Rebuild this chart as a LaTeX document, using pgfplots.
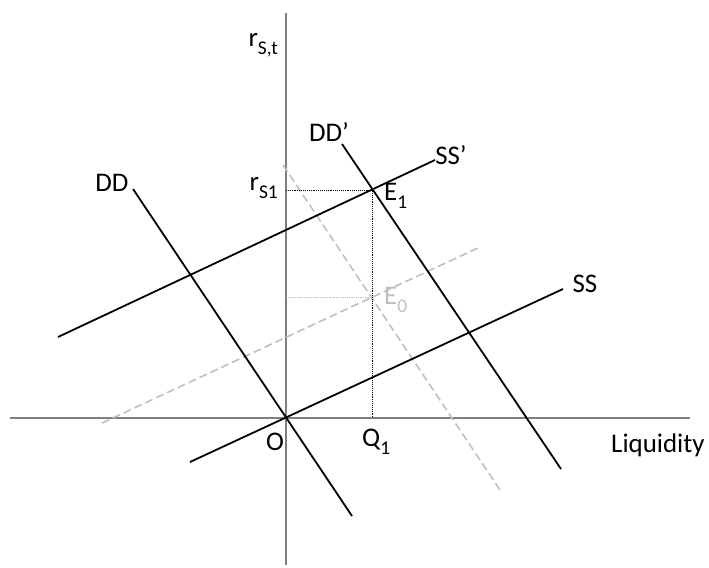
\documentclass[border=0pt]{standalone}
\usepackage{pgfplots}
\pgfplotsset{compat=1.18}
\usepackage{fontspec}
\setmainfont{Carlito}
\definecolor{axgray}{HTML}{7F7F7F}
\definecolor{lgray}{HTML}{BFBFBF}
\newcommand\sub[1]{\raisebox{-0.3em}{\fontsize{19.5}{20}\selectfont #1}}
\tikzset{lab/.style={font=\fontsize{27}{30}\selectfont, inner sep=0pt}}
\begin{document}
\begin{tikzpicture}
\begin{axis}[
  scale only axis, width=709bp, height=568bp,
  xmin=0, xmax=709, ymin=0, ymax=568, y dir=reverse,
  hide axis, clip=false,
]
\path[draw=none] (axis cs:0,0) rectangle (axis cs:709,568);
% axes
\addplot[axgray, line width=1.4pt] coordinates {(286,13) (286,565)};
\addplot[axgray, line width=1.4pt] coordinates {(10,418) (690,418)};
% gray dashed original curves
\addplot[lgray, line width=1.6pt, dash pattern=on 8pt off 4pt] coordinates {(283,165) (500,490)};
\addplot[lgray, line width=1.6pt, dash pattern=on 8pt off 4pt] coordinates {(102,423) (480,247)};
% dotted guides
\addplot[lgray, line width=0.8pt, densely dotted] coordinates {(286,297) (372,297)};
\addplot[black, line width=0.9pt, densely dotted] coordinates {(286,190) (372,190) (372,418)};
% black curves
\addplot[black, line width=1.8pt] coordinates {(190,462) (563,289)};   % SS
\addplot[black, line width=1.8pt] coordinates {(58,337) (435,160)};    % SS'
\addplot[black, line width=1.8pt] coordinates {(133,189) (352,516)};   % DD
\addplot[black, line width=1.8pt] coordinates {(342,144) (561,469)};   % DD'
% labels
\node[lab, anchor=east] at (axis cs:278,45) {r\sub{S,t}};
\node[lab] at (axis cs:112,183) {DD};
\node[lab, anchor=east] at (axis cs:278,188) {r\sub{S1}};
\node[lab] at (axis cs:329,132) {DD’};
\node[lab] at (axis cs:451,155) {SS’};
\node[lab, anchor=west] at (axis cs:384,196) {E\sub{1}};
\node[lab, anchor=west, text=lgray] at (axis cs:384,300) {E\sub{0}};
\node[lab] at (axis cs:585,284) {SS};
\node[lab] at (axis cs:275,442) {O};
\node[lab, anchor=west] at (axis cs:362,442) {Q\sub{1}};
\node[lab, anchor=west] at (axis cs:611,445) {Liquidity};
\end{axis}
\end{tikzpicture}
\end{document}
